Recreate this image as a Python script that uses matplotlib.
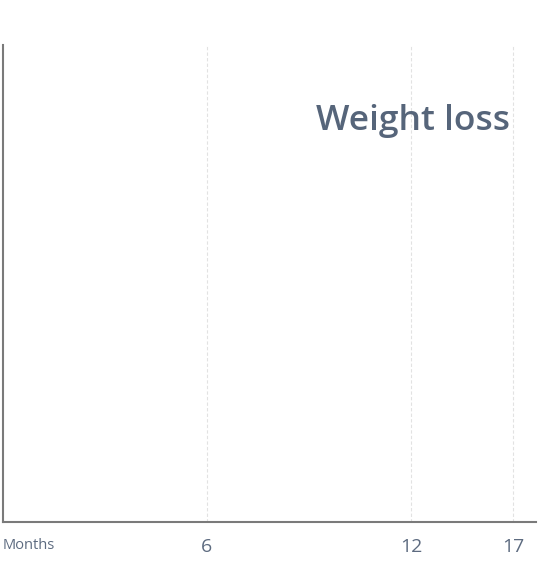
import matplotlib.pyplot as plt
from matplotlib.transforms import blended_transform_factory

# timeline steps (categorical positions) and the month labels shown on them
month_steps = [6, 12, 15]
month_labels = ["6", "12", "17"]
x_max = 15.68

title_color = "#56657a"
text_color = "#5d6b80"

plt.rcParams['font.family'] = ['Open Sans', 'DejaVu Sans']

fig = plt.figure(figsize=(5.5, 5.7), dpi=100)
ax = fig.add_axes([3 / 550, 48 / 570, 533 / 550, 477 / 570])

ax.set_xlim(0, x_max)
ax.set_ylim(0, 1)

ax.set_xticks(month_steps)
ax.set_xticklabels(month_labels, fontsize=14, color=text_color)
ax.set_yticks([])
ax.tick_params(axis='x', length=0, pad=11.5)

ax.grid(axis='x', color='#e2e2e2', linestyle=(0, (3, 2)), linewidth=0.8)

for s in ['top', 'right']:
    ax.spines[s].set_visible(False)
for s in ['left', 'bottom']:
    ax.spines[s].set_color('#7a7a7a')
    ax.spines[s].set_linewidth(1.5)

ax.text(0.951, 0.822, "Weight loss", transform=ax.transAxes, ha='right',
        va='baseline', fontsize=25.5, fontweight='semibold', color=title_color)

tr = blended_transform_factory(ax.transAxes, ax.transAxes)
ax.text(0.0, -0.0485, "Months", transform=tr, ha='left', va='center',
        fontsize=10.5, color=text_color)

fig.savefig("out.png", dpi=100)
